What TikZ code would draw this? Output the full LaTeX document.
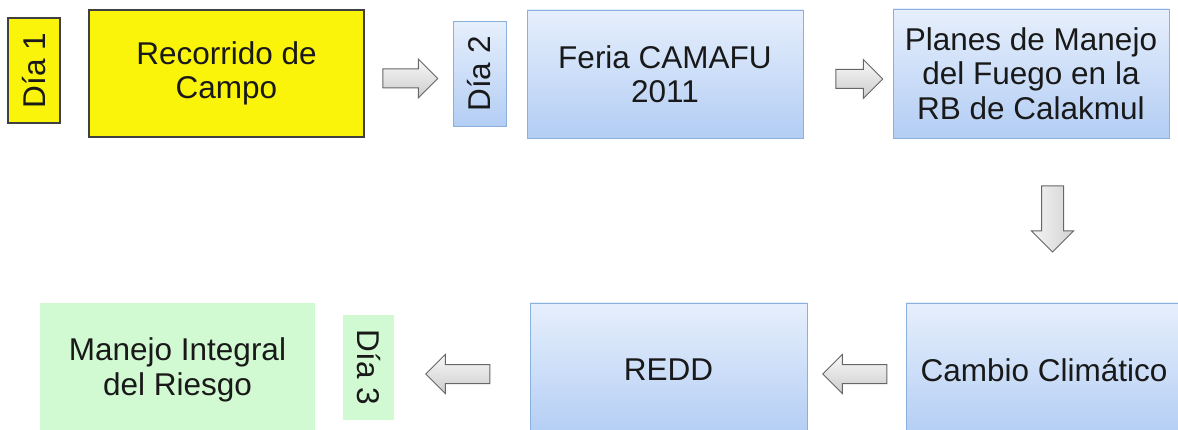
\documentclass[tikz,border=0pt]{standalone}
\usepackage{fontspec}
\setmainfont{Liberation Sans}
\usetikzlibrary{shapes.arrows}

\definecolor{boxyellow}{HTML}{FAF30A}
\definecolor{boxbluetop}{HTML}{E6EFFC}
\definecolor{boxbluebot}{HTML}{B3CDF4}
\definecolor{boxblueline}{HTML}{8CB0DE}
\definecolor{boxgreen}{HTML}{D2FAD2}

\begin{document}
\begin{tikzpicture}[x=1pt,y=-1pt,
    every node/.style={font=\fontsize{31.5}{34.5}\selectfont,text=black!90,align=center,inner sep=0pt},
    yellow node/.style={rectangle,draw=black!75,fill=boxyellow,line width=1.2pt},
    blue node/.style={rectangle,draw=boxblueline,top color=boxbluetop,bottom color=boxbluebot,line width=0.8pt},
    green node/.style={rectangle,fill=boxgreen},
    wide node/.style={minimum width=276pt,minimum height=128pt},
    day node/.style={minimum width=52pt,minimum height=105pt},
    block arrow/.style={single arrow,draw=black!60,top color=gray!5,bottom color=gray!40,
      line width=1pt,inner sep=9pt,single arrow head extend=10pt,minimum width=38pt}]
    \useasboundingbox (0,0) rectangle (1178,430);
    \clip (0,0) rectangle (1178,430);
    % first day
    \node[yellow node,day node] (1) at (34,70.5) {\rotatebox{90}{Día 1}};
    \node[yellow node,wide node,minimum width=275pt,minimum height=127pt] (2) at (226.5,73.5) {Recorrido de\\Campo};
    % second day
    \node[blue node,day node,minimum width=53pt] (3) at (479.5,74) {\rotatebox{90}{Día 2}};
    \node[blue node,wide node] (4) at (665,74) {Feria CAMAFU\\2011};
    \node[blue node,wide node,minimum height=129pt] (5) at (1031,73.5) {Planes de Manejo\\del Fuego en la\\RB de Calakmul};
    \node[blue node,wide node,minimum height=134pt] (6) at (1044,370) {Cambio Climático};
    \node[blue node,wide node,minimum width=277pt,minimum height=134pt] (7) at (668.5,370) {REDD};
    % third day
    \node[green node,day node,minimum width=51pt] (8) at (368.5,367.5) {\rotatebox{-90}{Día 3}};
    \node[green node,wide node,minimum width=275pt,minimum height=134pt] (9) at (177.5,370) {Manejo Integral\\del Riesgo};
    % arrows
    \node[block arrow,minimum height=55pt,minimum width=37pt] (a1) at (405.5,78.5) {};
    \node[block arrow,minimum height=47pt] (a2) at (854.5,79) {};
    \node[block arrow,minimum height=66pt,minimum width=41pt,inner sep=10.5pt,shape border rotate=270,
      left color=gray!8,right color=gray!35] (a3) at (1052.5,213.5) {};
    \node[block arrow,minimum height=64pt,shape border rotate=180] (a4) at (859.5,374) {};
    \node[block arrow,minimum height=64pt,shape border rotate=180] (a5) at (462.5,374) {};
\end{tikzpicture}
\end{document}
